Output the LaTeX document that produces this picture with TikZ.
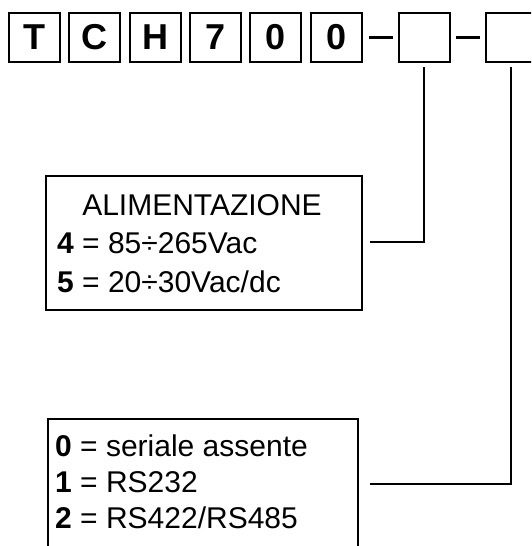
\documentclass[tikz,border=0pt]{standalone}
\usepackage{fontspec}
\setmainfont{Liberation Sans}
\begin{document}
\begin{tikzpicture}[x=1pt,y=-1pt,
  letterbox/.style={draw, line width=2pt, minimum width=51pt, minimum height=49pt, inner sep=0pt,
    font=\fontsize{36}{40}\selectfont\bfseries},
  panel/.style={draw, line width=1.6pt, inner sep=0pt},
  body/.style={font=\fontsize{30}{34}\selectfont, inner sep=0pt},
  conn/.style={line width=1.5pt},
  dashline/.style={line width=3pt}]
\useasboundingbox (0,0) rectangle (531,546);
\clip (0,0) rectangle (531,546);
\node[letterbox] (bT) at (34.5,37.5) {T};
\node[letterbox] (bC) at (94.8,37.5) {C};
\node[letterbox] (bH) at (155.1,37.5) {H};
\node[letterbox] (b7) at (215.4,37.5) {7};
\node[letterbox] (b0a) at (275.7,37.5) {0};
\node[letterbox] (b0b) at (336.2,37.5) {0};
\node[letterbox] (bx1) at (424,37.5) {};
\node[letterbox] (bx2) at (511,37.5) {};
\draw[dashline, shorten <=6pt, shorten >=5pt] (b0b.east) -- (bx1.west);
\draw[dashline, shorten <=5pt, shorten >=5pt] (bx1.east) -- (bx2.west);
% power supply panel
\node[panel, minimum width=316pt, minimum height=134pt] (alim) at (204,243) {};
\node[body, anchor=base] (t1) at (202,215) {ALIMENTAZIONE};
\node[body, anchor=base west] (t2) at (57,253) {\textbf{4} = 85÷265Vac};
\node[body, anchor=base west] (t3) at (57,292) {\textbf{5} = 20÷30Vac/dc};
\coordinate (c1) at (370,242);
\draw[conn, shorten <=4pt] (bx1.south) |- (c1);
% serial panel
\node[panel, minimum width=310pt, minimum height=150pt] (ser) at (203,494) {};
\node[body, anchor=base west] (s1) at (55,456) {\textbf{0} = seriale assente};
\node[body, anchor=base west] (s2) at (55,492) {\textbf{1} = RS232};
\node[body, anchor=base west] (s3) at (55,528) {\textbf{2} = RS422/RS485};
\coordinate (c2) at (370,484);
\draw[conn, shorten <=4pt] (bx2.south) |- (c2);
\end{tikzpicture}
\end{document}
